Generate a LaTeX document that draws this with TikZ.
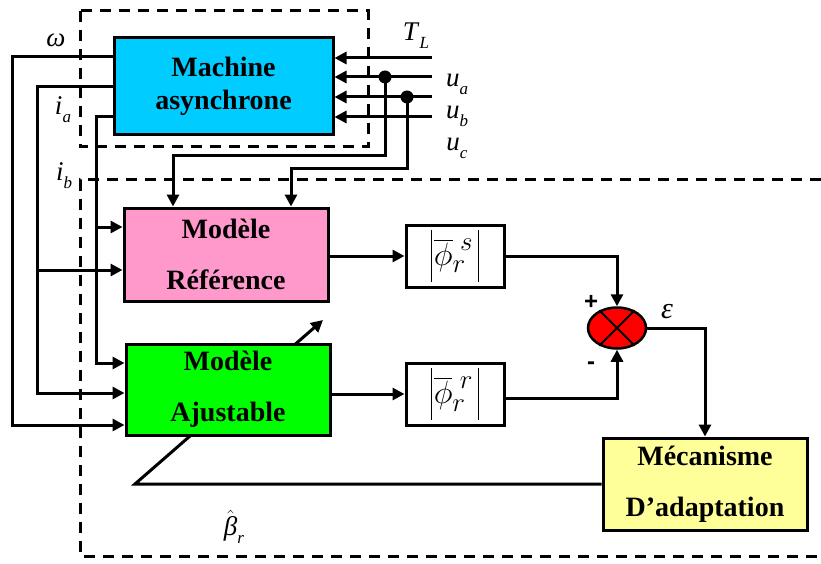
\documentclass[tikz,border=0pt]{standalone}
\usepackage{fontspec}
\setmainfont{Liberation Serif}
\setsansfont{Liberation Sans}
\usetikzlibrary{arrows.meta,calc,shapes.geometric,backgrounds}
\definecolor{MasClr}{RGB}{0,204,255}
\definecolor{RefClr}{RGB}{255,153,204}
\definecolor{AjuClr}{RGB}{0,255,0}
\definecolor{MecClr}{RGB}{255,255,153}
\definecolor{CmpClr}{RGB}{255,0,0}
\newcommand{\etiq}[2]{\textit{#1}\raisebox{-0.3em}{\fontsize{17}{17}\selectfont\textit{#2}}}
\newcommand{\barre}{\rule[-17pt]{1.2pt}{52pt}}

\begin{document}
\begin{tikzpicture}[x=1pt,y=-1pt,
  bloc/.style={draw,line width=3pt,align=center,inner sep=0pt,
    font=\bfseries\fontsize{28}{51}\selectfont},
  fluxbox/.style={draw,line width=3pt,minimum width=98pt,minimum height=62pt,
    inner sep=0pt,font=\fontsize{28}{28}\selectfont},
  fleche/.style={line width=3pt,-{Triangle[length=12pt,width=12pt]}},
  pointille/.style={line width=3pt,dash pattern=on 11pt off 8pt},
  lbl/.style={font=\fontsize{27}{27}\selectfont,inner sep=0pt}]
\useasboundingbox (0,0) rectangle (821,564);

\draw[pointille] (80,11) rectangle (368,147);
\draw[pointille] (821,180) -- (80,180) -- (80,556) -- (821,556);

\node[bloc,fill=MasClr,minimum width=219pt,minimum height=97pt,
  font=\bfseries\fontsize{28}{33}\selectfont] (mas) at (223.5,86.5) {Machine\\asynchrone};
\node[bloc,fill=RefClr,minimum width=204pt,minimum height=93pt] (mref) at (226,254.5) {Modèle\\Référence};
\node[bloc,fill=AjuClr,minimum width=204pt,minimum height=91pt] (majust) at (228,389.5) {Modèle\\Ajustable};
\node[bloc,fill=MecClr,minimum width=204pt,minimum height=92pt] (meca) at (705,484) {Mécanisme\\D’adaptation};

\node[fluxbox] (fluxs) at (455,256) {\barre\hspace{2pt}\scalebox{1.3}{$\overline{\phi}_{r}^{\;s}$}\hspace{5pt}\barre};
\node[fluxbox] (fluxr) at (455,394) {\barre\hspace{2pt}\scalebox{1.3}{$\overline{\phi}_{r}^{\;r}$}\hspace{5pt}\barre};
\node[ellipse,draw,line width=2.5pt,fill=CmpClr,minimum width=58pt,minimum height=41pt,inner sep=0pt] (comp) at (617,328) {};
\draw[line width=2pt] (comp.135) -- (comp.-45) (comp.45) -- (comp.-135);

\node[lbl] (lomega) at (56,40) {\textit{ω}};
\node[lbl] (lia) at (63,110) {\etiq{i}{a}};
\node[lbl] (lib) at (64,176) {\etiq{i}{b}};
\node[lbl] (lTL) at (416,36) {\etiq{T}{L}};
\node[lbl] (lua) at (457,84) {\etiq{u}{a}};
\node[lbl] (lub) at (457,116) {\etiq{u}{b}};
\node[lbl] (luc) at (457,148) {\etiq{u}{c}};
\node[lbl] (lbeta) at (234,527) {$\hat{\hbox{\itshape β}}$\raisebox{-0.3em}{\fontsize{17}{17}\selectfont\itshape r}};
\node[lbl,font=\fontsize{30}{30}\selectfont] (leps) at (667,312) {\textit{ε}};
\node[font=\sffamily\bfseries\fontsize{24}{24}\selectfont] (lplus) at (591,302) {+};
\node[font=\sffamily\bfseries\fontsize{24}{24}\selectfont] (lmoins) at (591,366) {-};

\foreach \nom/\y in {TL/58,ua/77,ub/97,uc/117}{
  \coordinate (\nom) at (432,\y);
  \draw[fleche] (\nom) -- (\nom -| mas.east);
}
\coordinate (da) at (385,77);
\coordinate (db) at (407,97);
\fill (da) circle (6.5pt);
\fill (db) circle (6.5pt);
\draw[fleche] (da) |- ([xshift=-53pt,yshift=51pt]mref.north) -- ([xshift=-53pt]mref.north);
\draw[fleche] (db) |- ([xshift=65pt,yshift=38pt]mref.north) -- ([xshift=65pt]mref.north);

\draw[fleche] ([yshift=29.5pt]mas.west) -| ([xshift=-112pt,yshift=-35.5pt]majust.west) -- ([yshift=-35.5pt]majust.west);
\draw[fleche] (mas.west) -| ([xshift=-87pt,yshift=-3.5pt]majust.west) -- ([yshift=-3.5pt]majust.west);
\draw[fleche] ([xshift=-85pt,yshift=-15.5pt]mref.west) -- ([yshift=-15.5pt]mref.west);
\draw[fleche] ([yshift=-30.5pt]mas.west) -| ([xshift=-28pt,yshift=26.5pt]majust.west) -- ([yshift=26.5pt]majust.west);
\draw[fleche] ([xshift=-26pt,yshift=27.5pt]mref.west) -- ([yshift=27.5pt]mref.west);

\draw[fleche] (mref.east |- fluxs.west) -- (fluxs.west);
\draw[fleche] (majust.east |- fluxr.west) -- (fluxr.west);
\draw[fleche] (fluxs.east) -| (comp.north);
\draw[fleche] ([yshift=-4pt]fluxr.east) -| (comp.south);
\draw[fleche] (comp.east) -| (meca.north);

\coordinate (bknee) at (135,486);
\coordinate (btip) at (323,320);
\begin{scope}[on background layer]
\draw[fleche] (meca.west) -- (bknee |- meca.west) -- (btip);
\end{scope}

\end{tikzpicture}
\end{document}
